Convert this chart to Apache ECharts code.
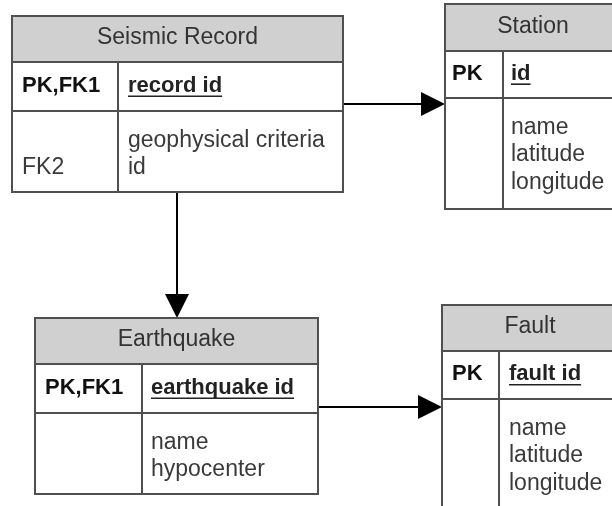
<!DOCTYPE html>
<html><head><meta charset="utf-8">
<script src="https://cdn.jsdelivr.net/npm/echarts@6/dist/echarts.min.js"></script>
<style>html,body{margin:0;padding:0;background:#fff}#c{width:612px;height:506px}</style>
</head><body><div id="c"></div>
<script>
// ---- diagram content ----
const entityNames = ['Seismic Record', 'Station', 'Earthquake', 'Fault'];
const pkKeys = ['PK,FK1', 'PK', 'PK,FK1', 'PK'];
const pkFields = ['record id', 'id', 'earthquake id', 'fault id'];
const attrKeys = [['', 'FK2'], [], [], []];
const attrFields = [['geophysical criteria', 'id'], ['name', 'latitude', 'longitude'], ['name', 'hypocenter'], ['name', 'latitude', 'longitude']];
const relFrom = [0, 0, 2];
const relTo = [1, 2, 3];

// ---- layout (diagram units) ----
const boxLayout = [
  {x: 12,  y: 16,  w: 331, head: 46, pk: 49, body: 81,  keyW: 106, keyPad: 10, fieldPad: 10},
  {x: 445, y: 4,   w: 176, head: 47, pk: 47, body: 111, keyW: 58,  keyPad: 7,  fieldPad: 8},
  {x: 35,  y: 318, w: 283, head: 46, pk: 49, body: 81,  keyW: 107, keyPad: 10, fieldPad: 9},
  {x: 442, y: 305, w: 176, head: 46, pk: 48, body: 111, keyW: 57,  keyPad: 10, fieldPad: 10}
];
const relLayout = [{side: 'h', at: 104}, {side: 'v', at: 177}, {side: 'h', at: 407}];
const FONT_FAMILY = '"Liberation Sans", Arial, sans-serif';
const FS = 23, FS_BOLD = 22, LINE_H = 27.5, BODY_OFF = 29.5;
const BORDER = '#505050', HEAD_FILL = '#d0d0d0';

const measureCtx = document.createElement('canvas').getContext('2d');
function textW(t, font) { measureCtx.font = font; return measureCtx.measureText(t).width; }

function txt(text, x, y, font, fill, align) {
  return {type: 'text', silent: true, style: {text: text, x: x, y: y, font: font, fill: fill,
    align: align, verticalAlign: 'middle', textAlign: align, textVerticalAlign: 'middle'}};
}

function renderEntity(params, api) {
  const i = api.value(0);
  const L = boxLayout[i];
  const tl = api.coord([L.x, L.y]);
  const br = api.coord([L.x + L.w, L.y + L.head + L.pk + L.body]);
  const hb = api.coord([L.x, L.y + L.head])[1];
  const pb = api.coord([L.x, L.y + L.head + L.pk])[1];
  const dx = api.coord([L.x + L.keyW, L.y])[0];
  const W = br[0] - tl[0], H = br[1] - tl[1];
  const normal = FS + 'px ' + FONT_FAMILY;
  const bold = 'bold ' + FS_BOLD + 'px ' + FONT_FAMILY;
  const ch = [];
  ch.push({type: 'rect', shape: {x: tl[0], y: tl[1], width: W, height: hb - tl[1]}, style: {fill: HEAD_FILL}});
  ch.push({type: 'rect', shape: {x: tl[0], y: tl[1], width: W, height: H}, style: {fill: null, stroke: BORDER, lineWidth: 2}});
  ch.push({type: 'line', shape: {x1: tl[0], y1: hb, x2: br[0], y2: hb}, style: {stroke: BORDER, lineWidth: 2}});
  ch.push({type: 'line', shape: {x1: tl[0], y1: pb, x2: br[0], y2: pb}, style: {stroke: BORDER, lineWidth: 2}});
  ch.push({type: 'line', shape: {x1: dx, y1: hb, x2: dx, y2: br[1]}, style: {stroke: BORDER, lineWidth: 2}});
  // header
  ch.push(txt(entityNames[i], tl[0] + W / 2, (tl[1] + hb) / 2 - 1, normal, '#333', 'center'));
  // pk row
  const pkY = (hb + pb) / 2 - 1;
  ch.push(txt(pkKeys[i], tl[0] + L.keyPad, pkY, bold, '#111', 'left'));
  const fx = dx + L.fieldPad;
  ch.push(txt(pkFields[i], fx, pkY, bold, '#222', 'left'));
  const uw = textW(pkFields[i], bold);
  const uy = pkY + 0.35 * FS_BOLD + 3;
  ch.push({type: 'line', shape: {x1: fx, y1: uy, x2: fx + uw, y2: uy}, style: {stroke: '#222', lineWidth: 1.6}});
  // attributes
  attrFields[i].forEach(function (f, k) {
    const y = pb + BODY_OFF + k * LINE_H;
    ch.push(txt(f, fx, y, normal, '#3a3a3a', 'left'));
    const key = attrKeys[i][k];
    if (key) ch.push(txt(key, tl[0] + L.keyPad, y, normal, '#3a3a3a', 'left'));
  });
  return {type: 'group', children: ch};
}

function renderRel(params, api) {
  const r = api.value(0);
  const A = boxLayout[relFrom[r]], B = boxLayout[relTo[r]];
  const R = relLayout[r];
  let p1, p2;
  if (R.side === 'h') {
    p1 = api.coord([A.x + A.w, R.at]);
    p2 = api.coord([B.x, R.at]);
  } else {
    p1 = api.coord([R.at, A.y + A.head + A.pk + A.body]);
    p2 = api.coord([R.at, B.y]);
  }
  const len = 24, half = 12;
  const dxv = p2[0] - p1[0], dyv = p2[1] - p1[1];
  const d = Math.sqrt(dxv * dxv + dyv * dyv);
  const ux = dxv / d, uy = dyv / d;
  const bx = p2[0] - ux * len, by = p2[1] - uy * len;
  return {type: 'group', children: [
    {type: 'line', shape: {x1: p1[0], y1: p1[1], x2: bx, y2: by}, style: {stroke: '#000', lineWidth: 2}},
    {type: 'polygon', shape: {points: [[p2[0], p2[1]], [bx - uy * half, by + ux * half], [bx + uy * half, by - ux * half]]}, style: {fill: '#000'}}
  ]};
}

const chart = echarts.init(document.getElementById('c'), null, {renderer: 'canvas'});
chart.setOption({
  animation: false,
  backgroundColor: '#fff',
  grid: {left: 0, right: 0, top: 0, bottom: 0},
  xAxis: {type: 'value', min: 0, max: 612, show: false},
  yAxis: {type: 'value', min: 0, max: 506, inverse: true, show: false},
  series: [
    {type: 'custom', coordinateSystem: 'cartesian2d', silent: true, clip: false,
     renderItem: renderRel, data: relFrom.map(function (f, i) { return [i]; })},
    {type: 'custom', coordinateSystem: 'cartesian2d', silent: true, clip: false,
     renderItem: renderEntity, data: entityNames.map(function (n, i) { return [i]; })}
  ]
});
</script></body></html>
